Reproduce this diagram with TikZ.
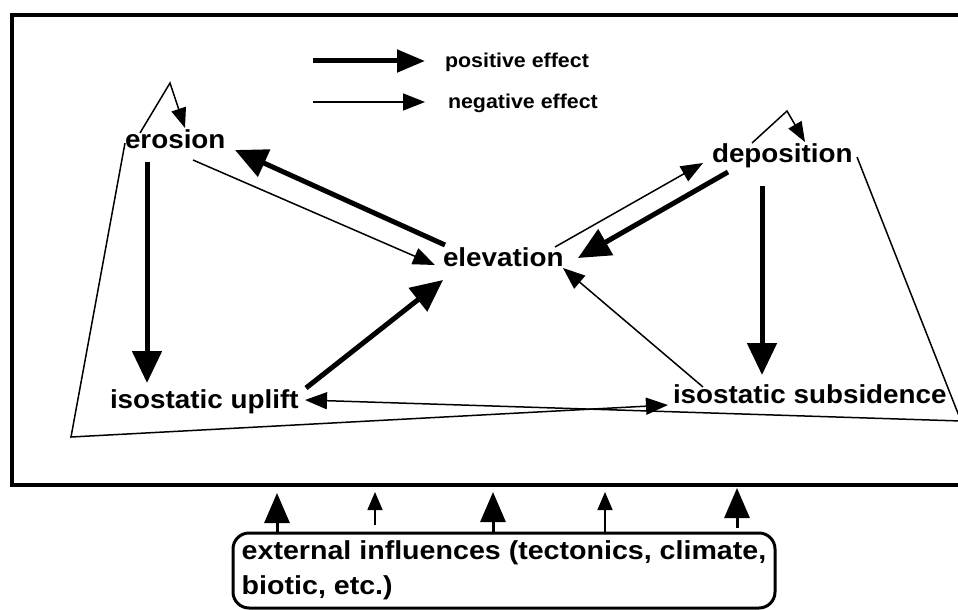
\documentclass[tikz,border=0pt]{standalone}
\usepackage{fontspec}
\setmainfont{Liberation Sans}
\newfontfamily\lblfont{Liberation Sans}[FakeStretch=1.07]
\newfontfamily\extfont{Liberation Sans}[FakeStretch=1.1]
\usetikzlibrary{arrows.meta,calc}
\begin{document}
\begin{tikzpicture}[x=1pt,y=-1pt,
  lbl/.style={inner sep=0pt,outer sep=0pt,anchor=base west,font=\lblfont\bfseries\fontsize{26}{32}\selectfont},
  leg/.style={inner sep=0pt,outer sep=0pt,anchor=base west,font=\lblfont\bfseries\fontsize{20}{24}\selectfont},
  posarrow/.style={line width=5pt,-{Triangle[length=32pt,width=29pt]}},
  negarrow/.style={line width=1.5pt,-{Triangle[length=22pt,width=17pt]}},
  looparrow/.style={line width=1.5pt,-{Triangle[length=20pt,width=15pt]}},
  legpos/.style={line width=5pt,-{Triangle[length=28pt,width=22pt]}},
  extpos/.style={line width=3pt,-{Triangle[length=30pt,width=25pt]}},
  extneg/.style={line width=1.5pt,-{Triangle[length=18pt,width=15pt]}}]
\useasboundingbox (0,0) rectangle (958,610);
\clip (0,0) rectangle (958,610);
\fill[white] (0,0) rectangle (958,610);
% frame
\draw[line width=3.5pt] (12,15) rectangle (990,485);
% nodes
\node[lbl] (E) at (125,148) {erosion};
\node[lbl] (D) at (712,162) {deposition};
\node[lbl] (V) at (443,266) {elevation};
\node[lbl] (U) at (110,408) {isostatic uplift};
\node[lbl] (S) at (673,403) {isostatic subsidence};
\node[leg] (P) at (445,67) {positive effect};
\node[leg] (N) at (448,108) {negative effect};
\node[draw,line width=3pt,rounded corners=16pt,outer sep=0pt,minimum width=542pt,minimum height=75pt,
      inner xsep=8pt,align=left,anchor=north west,
      font=\extfont\bfseries\fontsize{26}{35}\selectfont] (X) at (233,533)
      {external influences (tectonics, climate,\\biotic, etc.)};
% helper coordinates
\coordinate (lp) at (170,83);
\coordinate (rp) at (787,111);
\coordinate (bl) at (71,437);
\coordinate (br) at (961,421);
% legend
\draw[legpos] ($(P.base west)+(-132,-6)$) -- ($(P.base west)+(-20,-6)$);
\draw[negarrow] ($(N.base west)+(-135,-6)$) -- ($(N.base west)+(-23,-6)$);
% self loops
\draw[looparrow] ($(E.base west)+(15,-15)$) -- (lp) -- ($(E.base west)+(60,-20)$);
\draw[looparrow] ($(D.base west)+(40,-19)$) -- (rp) -- ($(D.base west)+(93,-20)$);
% long negative loops
\draw[negarrow] ($(E.base west)+(0,-5)$) -- (bl) -- ($(S.base west)+(-5,2)$);
\draw[negarrow] ($(D.base west)+(145,-5)$) -- (br) -- ($(U.base west)+(195,-8)$);
% positive arrows
\draw[posarrow] ($(E.base west)+(22,14)$) -- ($(U.base west)+(37,-25)$);
\draw[posarrow] ($(V.base west)+(2,-21)$) -- ($(E.base west)+(110,2)$);
\draw[posarrow] ($(D.base west)+(16,10)$) -- ($(V.base west)+(135,-8)$);
\draw[posarrow] ($(D.base west)+(50,24)$) -- ($(S.base west)+(89,-28)$);
\draw[posarrow] ($(U.base west)+(196,-20)$) -- ($(V.base west)+(0,14)$);
% negative arrows
\draw[negarrow] ($(E.base west)+(68,12)$) -- ($(V.base west)+(-8,-1)$);
\draw[negarrow] ($(V.base west)+(112,-19)$) -- ($(D.base west)+(-9,1)$);
\draw[negarrow] ($(S.base west)+(30,-16)$) -- ($(V.base west)+(120,2)$);
% external influence arrows
\draw[extpos] ($(X.north west)+(44,0)$) -- ++(0,-40);
\draw[extneg] ($(X.north west)+(142,-8)$) -- ++(0,-33);
\draw[extpos] ($(X.north west)+(260,0)$) -- ++(0,-41);
\draw[extneg] ($(X.north west)+(372,0)$) -- ++(0,-41);
\draw[extpos] ($(X.north west)+(504,-5)$) -- ++(0,-40);
\end{tikzpicture}
\end{document}
